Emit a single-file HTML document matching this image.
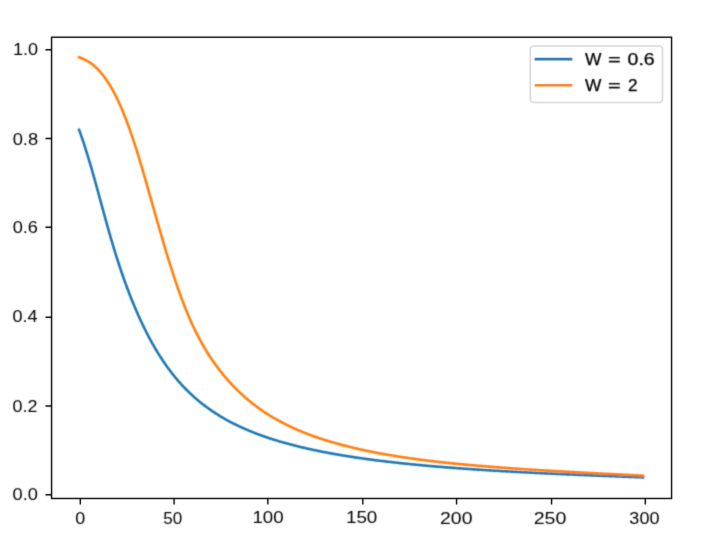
<!DOCTYPE html>
<html><head><meta charset="utf-8"><title>W plot</title>
<style>
html,body{margin:0;padding:0;background:#fff;}
body{width:710px;height:539px;overflow:hidden;}
svg{display:block;}
text{font-family:"Liberation Sans",sans-serif;font-size:17.25px;fill:#000;text-anchor:middle;}
text.lg{text-anchor:start;font-size:17.0px;stroke:#000;stroke-width:0.25px;}
</style></head>
<body>
<svg width="710" height="539" viewBox="0 0 710 539">
<rect width="710" height="539" fill="#fff"/>
<defs><filter id="fc" x="0" y="0" width="710" height="539" filterUnits="userSpaceOnUse"><feConvolveMatrix order="3" kernelMatrix="0.02560 0.10880 0.02560 0.10880 0.46240 0.10880 0.02560 0.10880 0.02560" divisor="1"/></filter><filter id="fs" x="0" y="0" width="710" height="539" filterUnits="userSpaceOnUse"><feConvolveMatrix order="3" kernelMatrix="0.00640 0.06720 0.00640 0.06720 0.70560 0.06720 0.00640 0.06720 0.00640" divisor="1"/></filter><filter id="ft" x="0" y="0" width="710" height="539" filterUnits="userSpaceOnUse"><feConvolveMatrix order="3" kernelMatrix="0.02560 0.10880 0.02560 0.10880 0.46240 0.10880 0.02560 0.10880 0.02560" divisor="1"/></filter></defs>
<g filter="url(#fc)"><polyline points="79.12,129.84 80.06,132.43 81.00,135.09 81.94,137.81 82.89,140.59 83.83,143.43 84.77,146.32 85.71,149.27 86.65,152.27 87.59,155.32 88.53,158.41 89.48,161.56 90.42,164.75 91.36,167.98 92.30,171.25 93.24,174.56 94.18,177.90 95.12,181.27 96.06,184.67 97.01,188.10 97.95,191.53 98.89,194.98 99.83,198.44 100.77,201.90 101.71,205.35 102.65,208.80 103.60,212.24 104.54,215.67 105.48,219.08 106.42,222.47 107.36,225.84 108.30,229.18 109.24,232.50 110.19,235.78 111.13,239.02 112.07,242.23 113.01,245.40 113.95,248.53 114.89,251.61 115.83,254.65 116.77,257.64 117.72,260.59 118.66,263.50 119.60,266.37 120.54,269.19 121.48,271.97 122.42,274.71 123.36,277.41 124.31,280.07 125.25,282.69 126.19,285.27 127.13,287.82 128.07,290.32 129.01,292.79 129.95,295.22 130.90,297.62 131.84,299.98 132.78,302.30 133.72,304.59 134.66,306.85 135.60,309.07 136.54,311.26 137.48,313.41 138.43,315.53 139.37,317.63 140.31,319.68 141.25,321.71 142.19,323.71 143.13,325.68 144.07,327.61 145.02,329.52 145.96,331.40 146.90,333.25 147.84,335.07 148.78,336.86 149.72,338.63 150.66,340.37 151.61,342.08 152.55,343.77 153.49,345.43 154.43,347.06 155.37,348.67 156.31,350.25 157.25,351.81 158.19,353.35 159.14,354.86 160.08,356.35 161.02,357.81 161.96,359.25 162.90,360.67 163.84,362.07 164.78,363.45 165.73,364.80 166.67,366.13 167.61,367.44 168.55,368.73 169.49,370.00 170.43,371.25 171.37,372.48 172.32,373.69 173.26,374.88 174.20,376.05 175.14,377.21 176.08,378.34 177.02,379.46 177.96,380.56 178.91,381.64 179.85,382.71 180.79,383.75 181.73,384.79 182.67,385.80 183.61,386.80 184.55,387.79 185.49,388.76 186.44,389.71 187.38,390.65 188.32,391.58 189.26,392.49 190.20,393.39 191.14,394.28 192.08,395.15 193.03,396.01 193.97,396.86 194.91,397.69 195.85,398.51 196.79,399.32 197.73,400.12 198.67,400.91 199.62,401.68 200.56,402.45 201.50,403.20 202.44,403.94 203.38,404.68 204.32,405.40 205.26,406.11 206.20,406.81 207.15,407.50 208.09,408.19 209.03,408.86 209.97,409.52 210.91,410.18 211.85,410.82 212.79,411.46 213.74,412.09 214.68,412.71 215.62,413.32 216.56,413.92 217.50,414.52 218.44,415.11 219.38,415.69 220.33,416.26 221.27,416.82 222.21,417.38 223.15,417.93 224.09,418.47 225.03,419.01 225.97,419.54 226.91,420.06 227.86,420.58 228.80,421.09 229.74,421.59 230.68,422.09 231.62,422.58 232.56,423.06 233.50,423.54 234.45,424.02 235.39,424.48 236.33,424.94 237.27,425.40 238.21,425.85 239.15,426.30 240.09,426.74 241.04,427.17 241.98,427.60 242.92,428.03 243.86,428.45 244.80,428.86 245.74,429.27 246.68,429.68 247.63,430.08 248.57,430.48 249.51,430.87 250.45,431.26 251.39,431.64 252.33,432.02 253.27,432.40 254.21,432.77 255.16,433.13 256.10,433.50 257.04,433.86 257.98,434.21 258.92,434.57 259.86,434.91 260.80,435.26 261.75,435.60 262.69,435.94 263.63,436.27 264.57,436.60 265.51,436.93 266.45,437.25 267.39,437.57 268.34,437.88 269.28,438.20 270.22,438.51 271.16,438.81 272.10,439.12 273.04,439.42 273.98,439.72 274.92,440.01 275.87,440.30 276.81,440.59 277.75,440.88 278.69,441.16 279.63,441.44 280.57,441.72 281.51,441.99 282.46,442.26 283.40,442.53 284.34,442.80 285.28,443.06 286.22,443.32 287.16,443.58 288.10,443.84 289.05,444.09 289.99,444.35 290.93,444.59 291.87,444.84 292.81,445.09 293.75,445.33 294.69,445.57 295.63,445.81 296.58,446.04 297.52,446.27 298.46,446.51 299.40,446.73 300.34,446.96 301.28,447.19 302.22,447.41 303.17,447.63 304.11,447.85 305.05,448.07 305.99,448.28 306.93,448.49 307.87,448.71 308.81,448.92 309.76,449.12 310.70,449.33 311.64,449.53 312.58,449.74 313.52,449.94 314.46,450.13 315.40,450.33 316.34,450.53 317.29,450.72 318.23,450.91 319.17,451.10 320.11,451.29 321.05,451.48 321.99,451.67 322.93,451.85 323.88,452.03 324.82,452.22 325.76,452.40 326.70,452.57 327.64,452.75 328.58,452.93 329.52,453.10 330.47,453.28 331.41,453.45 332.35,453.62 333.29,453.79 334.23,453.95 335.17,454.12 336.11,454.29 337.06,454.45 338.00,454.61 338.94,454.78 339.88,454.94 340.82,455.09 341.76,455.25 342.70,455.41 343.64,455.56 344.59,455.72 345.53,455.87 346.47,456.02 347.41,456.18 348.35,456.33 349.29,456.47 350.23,456.62 351.18,456.77 352.12,456.91 353.06,457.06 354.00,457.20 354.94,457.34 355.88,457.48 356.82,457.62 357.77,457.76 358.71,457.90 359.65,458.04 360.59,458.17 361.53,458.31 362.47,458.44 363.41,458.58 364.35,458.71 365.30,458.84 366.24,458.97 367.18,459.10 368.12,459.23 369.06,459.36 370.00,459.48 370.94,459.61 371.89,459.73 372.83,459.86 373.77,459.98 374.71,460.10 375.65,460.22 376.59,460.34 377.53,460.46 378.48,460.58 379.42,460.70 380.36,460.82 381.30,460.93 382.24,461.05 383.18,461.16 384.12,461.28 385.06,461.39 386.01,461.50 386.95,461.61 387.89,461.72 388.83,461.83 389.77,461.94 390.71,462.05 391.65,462.16 392.60,462.27 393.54,462.37 394.48,462.48 395.42,462.58 396.36,462.69 397.30,462.79 398.24,462.89 399.19,463.00 400.13,463.10 401.07,463.20 402.01,463.30 402.95,463.40 403.89,463.50 404.83,463.59 405.78,463.69 406.72,463.79 407.66,463.88 408.60,463.98 409.54,464.07 410.48,464.17 411.42,464.26 412.36,464.36 413.31,464.45 414.25,464.54 415.19,464.63 416.13,464.72 417.07,464.81 418.01,464.90 418.95,464.99 419.90,465.08 420.84,465.17 421.78,465.25 422.72,465.34 423.66,465.43 424.60,465.51 425.54,465.60 426.49,465.68 427.43,465.77 428.37,465.85 429.31,465.93 430.25,466.02 431.19,466.10 432.13,466.18 433.07,466.26 434.02,466.34 434.96,466.42 435.90,466.50 436.84,466.58 437.78,466.66 438.72,466.74 439.66,466.81 440.61,466.89 441.55,466.97 442.49,467.04 443.43,467.12 444.37,467.20 445.31,467.27 446.25,467.34 447.20,467.42 448.14,467.49 449.08,467.57 450.02,467.64 450.96,467.71 451.90,467.78 452.84,467.85 453.78,467.92 454.73,468.00 455.67,468.07 456.61,468.14 457.55,468.21 458.49,468.27 459.43,468.34 460.37,468.41 461.32,468.48 462.26,468.55 463.20,468.61 464.14,468.68 465.08,468.75 466.02,468.81 466.96,468.88 467.91,468.94 468.85,469.01 469.79,469.07 470.73,469.14 471.67,469.20 472.61,469.27 473.55,469.33 474.49,469.39 475.44,469.45 476.38,469.52 477.32,469.58 478.26,469.64 479.20,469.70 480.14,469.76 481.08,469.82 482.03,469.88 482.97,469.94 483.91,470.00 484.85,470.06 485.79,470.12 486.73,470.18 487.67,470.24 488.62,470.30 489.56,470.35 490.50,470.41 491.44,470.47 492.38,470.53 493.32,470.58 494.26,470.64 495.21,470.70 496.15,470.75 497.09,470.81 498.03,470.86 498.97,470.92 499.91,470.97 500.85,471.03 501.79,471.08 502.74,471.14 503.68,471.19 504.62,471.24 505.56,471.30 506.50,471.35 507.44,471.40 508.38,471.46 509.33,471.51 510.27,471.56 511.21,471.61 512.15,471.66 513.09,471.71 514.03,471.77 514.97,471.82 515.92,471.87 516.86,471.92 517.80,471.97 518.74,472.02 519.68,472.07 520.62,472.12 521.56,472.17 522.50,472.22 523.45,472.27 524.39,472.31 525.33,472.36 526.27,472.41 527.21,472.46 528.15,472.51 529.09,472.56 530.04,472.60 530.98,472.65 531.92,472.70 532.86,472.75 533.80,472.79 534.74,472.84 535.68,472.89 536.63,472.93 537.57,472.98 538.51,473.02 539.45,473.07 540.39,473.11 541.33,473.16 542.27,473.21 543.21,473.25 544.16,473.30 545.10,473.34 546.04,473.38 546.98,473.43 547.92,473.47 548.86,473.52 549.80,473.56 550.75,473.61 551.69,473.65 552.63,473.69 553.57,473.74 554.51,473.78 555.45,473.82 556.39,473.87 557.34,473.91 558.28,473.95 559.22,473.99 560.16,474.04 561.10,474.08 562.04,474.12 562.98,474.16 563.93,474.20 564.87,474.25 565.81,474.29 566.75,474.33 567.69,474.37 568.63,474.41 569.57,474.45 570.51,474.49 571.46,474.53 572.40,474.57 573.34,474.61 574.28,474.66 575.22,474.70 576.16,474.74 577.10,474.78 578.05,474.82 578.99,474.86 579.93,474.90 580.87,474.93 581.81,474.97 582.75,475.01 583.69,475.05 584.64,475.09 585.58,475.13 586.52,475.17 587.46,475.21 588.40,475.25 589.34,475.29 590.28,475.33 591.22,475.36 592.17,475.40 593.11,475.44 594.05,475.48 594.99,475.52 595.93,475.56 596.87,475.59 597.81,475.63 598.76,475.67 599.70,475.71 600.64,475.75 601.58,475.78 602.52,475.82 603.46,475.86 604.40,475.90 605.35,475.93 606.29,475.97 607.23,476.01 608.17,476.04 609.11,476.08 610.05,476.12 610.99,476.15 611.93,476.19 612.88,476.23 613.82,476.26 614.76,476.30 615.70,476.34 616.64,476.37 617.58,476.41 618.52,476.45 619.47,476.48 620.41,476.52 621.35,476.56 622.29,476.59 623.23,476.63 624.17,476.66 625.11,476.70 626.06,476.74 627.00,476.77 627.94,476.81 628.88,476.84 629.82,476.88 630.76,476.91 631.70,476.95 632.64,476.99 633.59,477.02 634.53,477.06 635.47,477.09 636.41,477.13 637.35,477.16 638.29,477.20 639.23,477.23 640.18,477.27 641.12,477.30 642.06,477.34 643.00,477.37" fill="none" stroke="#1f77b4" stroke-width="2.604" stroke-linecap="square" stroke-linejoin="round"/>
<polyline points="79.12,57.27 80.06,57.59 81.00,57.94 81.94,58.31 82.89,58.71 83.83,59.13 84.77,59.58 85.71,60.06 86.65,60.57 87.59,61.12 88.53,61.69 89.48,62.30 90.42,62.94 91.36,63.61 92.30,64.33 93.24,65.07 94.18,65.86 95.12,66.69 96.06,67.55 97.01,68.46 97.95,69.40 98.89,70.39 99.83,71.42 100.77,72.49 101.71,73.61 102.65,74.77 103.60,75.98 104.54,77.24 105.48,78.54 106.42,79.89 107.36,81.29 108.30,82.74 109.24,84.23 110.19,85.78 111.13,87.37 112.07,89.02 113.01,90.72 113.95,92.46 114.89,94.26 115.83,96.12 116.77,98.02 117.72,99.98 118.66,101.98 119.60,104.04 120.54,106.16 121.48,108.32 122.42,110.54 123.36,112.81 124.31,115.14 125.25,117.51 126.19,119.94 127.13,122.42 128.07,124.95 129.01,127.54 129.95,130.17 130.90,132.85 131.84,135.59 132.78,138.37 133.72,141.20 134.66,144.08 135.60,147.01 136.54,149.98 137.48,153.00 138.43,156.07 139.37,159.17 140.31,162.30 141.25,165.47 142.19,168.67 143.13,171.89 144.07,175.13 145.02,178.39 145.96,181.67 146.90,184.97 147.84,188.27 148.78,191.58 149.72,194.90 150.66,198.22 151.61,201.54 152.55,204.86 153.49,208.18 154.43,211.50 155.37,214.81 156.31,218.12 157.25,221.42 158.19,224.70 159.14,227.98 160.08,231.24 161.02,234.49 161.96,237.72 162.90,240.92 163.84,244.11 164.78,247.27 165.73,250.41 166.67,253.53 167.61,256.61 168.55,259.67 169.49,262.69 170.43,265.69 171.37,268.65 172.32,271.58 173.26,274.47 174.20,277.32 175.14,280.15 176.08,282.93 177.02,285.67 177.96,288.38 178.91,291.05 179.85,293.67 180.79,296.26 181.73,298.81 182.67,301.31 183.61,303.77 184.55,306.19 185.49,308.57 186.44,310.91 187.38,313.20 188.32,315.45 189.26,317.65 190.20,319.82 191.14,321.94 192.08,324.01 193.03,326.04 193.97,328.04 194.91,329.99 195.85,331.90 196.79,333.78 197.73,335.62 198.67,337.43 199.62,339.20 200.56,340.93 201.50,342.64 202.44,344.31 203.38,345.95 204.32,347.56 205.26,349.14 206.20,350.70 207.15,352.22 208.09,353.72 209.03,355.19 209.97,356.64 210.91,358.06 211.85,359.46 212.79,360.84 213.74,362.19 214.68,363.52 215.62,364.83 216.56,366.11 217.50,367.38 218.44,368.63 219.38,369.85 220.33,371.06 221.27,372.25 222.21,373.43 223.15,374.58 224.09,375.72 225.03,376.84 225.97,377.95 226.91,379.04 227.86,380.12 228.80,381.18 229.74,382.22 230.68,383.25 231.62,384.27 232.56,385.27 233.50,386.26 234.45,387.23 235.39,388.19 236.33,389.14 237.27,390.07 238.21,390.99 239.15,391.90 240.09,392.79 241.04,393.68 241.98,394.55 242.92,395.40 243.86,396.25 244.80,397.09 245.74,397.91 246.68,398.72 247.63,399.52 248.57,400.31 249.51,401.09 250.45,401.86 251.39,402.62 252.33,403.36 253.27,404.10 254.21,404.83 255.16,405.54 256.10,406.25 257.04,406.95 257.98,407.64 258.92,408.32 259.86,408.99 260.80,409.65 261.75,410.30 262.69,410.95 263.63,411.58 264.57,412.21 265.51,412.83 266.45,413.44 267.39,414.05 268.34,414.64 269.28,415.23 270.22,415.81 271.16,416.39 272.10,416.95 273.04,417.51 273.98,418.06 274.92,418.61 275.87,419.14 276.81,419.68 277.75,420.20 278.69,420.72 279.63,421.23 280.57,421.74 281.51,422.24 282.46,422.73 283.40,423.22 284.34,423.70 285.28,424.18 286.22,424.65 287.16,425.11 288.10,425.57 289.05,426.02 289.99,426.47 290.93,426.91 291.87,427.35 292.81,427.78 293.75,428.21 294.69,428.63 295.63,429.05 296.58,429.47 297.52,429.87 298.46,430.28 299.40,430.68 300.34,431.07 301.28,431.46 302.22,431.85 303.17,432.23 304.11,432.61 305.05,432.98 305.99,433.35 306.93,433.71 307.87,434.08 308.81,434.43 309.76,434.79 310.70,435.14 311.64,435.48 312.58,435.82 313.52,436.16 314.46,436.50 315.40,436.83 316.34,437.16 317.29,437.48 318.23,437.80 319.17,438.12 320.11,438.44 321.05,438.75 321.99,439.06 322.93,439.36 323.88,439.66 324.82,439.96 325.76,440.26 326.70,440.55 327.64,440.84 328.58,441.13 329.52,441.41 330.47,441.70 331.41,441.98 332.35,442.25 333.29,442.53 334.23,442.80 335.17,443.07 336.11,443.33 337.06,443.60 338.00,443.86 338.94,444.12 339.88,444.37 340.82,444.63 341.76,444.88 342.70,445.13 343.64,445.38 344.59,445.62 345.53,445.86 346.47,446.10 347.41,446.34 348.35,446.58 349.29,446.81 350.23,447.04 351.18,447.27 352.12,447.50 353.06,447.72 354.00,447.95 354.94,448.17 355.88,448.39 356.82,448.60 357.77,448.82 358.71,449.03 359.65,449.24 360.59,449.45 361.53,449.66 362.47,449.87 363.41,450.07 364.35,450.27 365.30,450.47 366.24,450.67 367.18,450.87 368.12,451.06 369.06,451.26 370.00,451.45 370.94,451.64 371.89,451.83 372.83,452.01 373.77,452.20 374.71,452.38 375.65,452.56 376.59,452.74 377.53,452.92 378.48,453.10 379.42,453.27 380.36,453.45 381.30,453.62 382.24,453.79 383.18,453.96 384.12,454.13 385.06,454.30 386.01,454.46 386.95,454.63 387.89,454.79 388.83,454.95 389.77,455.11 390.71,455.27 391.65,455.43 392.60,455.58 393.54,455.74 394.48,455.89 395.42,456.04 396.36,456.19 397.30,456.34 398.24,456.49 399.19,456.64 400.13,456.79 401.07,456.93 402.01,457.07 402.95,457.22 403.89,457.36 404.83,457.50 405.78,457.64 406.72,457.78 407.66,457.91 408.60,458.05 409.54,458.18 410.48,458.32 411.42,458.45 412.36,458.58 413.31,458.71 414.25,458.84 415.19,458.97 416.13,459.10 417.07,459.22 418.01,459.35 418.95,459.47 419.90,459.60 420.84,459.72 421.78,459.84 422.72,459.96 423.66,460.08 424.60,460.20 425.54,460.32 426.49,460.44 427.43,460.55 428.37,460.67 429.31,460.79 430.25,460.90 431.19,461.01 432.13,461.12 433.07,461.24 434.02,461.35 434.96,461.46 435.90,461.56 436.84,461.67 437.78,461.78 438.72,461.89 439.66,461.99 440.61,462.10 441.55,462.20 442.49,462.31 443.43,462.41 444.37,462.51 445.31,462.61 446.25,462.71 447.20,462.81 448.14,462.91 449.08,463.01 450.02,463.11 450.96,463.20 451.90,463.30 452.84,463.40 453.78,463.49 454.73,463.59 455.67,463.68 456.61,463.77 457.55,463.87 458.49,463.96 459.43,464.05 460.37,464.14 461.32,464.23 462.26,464.32 463.20,464.41 464.14,464.50 465.08,464.59 466.02,464.67 466.96,464.76 467.91,464.85 468.85,464.93 469.79,465.02 470.73,465.10 471.67,465.19 472.61,465.27 473.55,465.35 474.49,465.43 475.44,465.52 476.38,465.60 477.32,465.68 478.26,465.76 479.20,465.84 480.14,465.92 481.08,466.00 482.03,466.08 482.97,466.15 483.91,466.23 484.85,466.31 485.79,466.38 486.73,466.46 487.67,466.54 488.62,466.61 489.56,466.69 490.50,466.76 491.44,466.84 492.38,466.91 493.32,466.98 494.26,467.05 495.21,467.13 496.15,467.20 497.09,467.27 498.03,467.34 498.97,467.41 499.91,467.48 500.85,467.55 501.79,467.62 502.74,467.69 503.68,467.76 504.62,467.83 505.56,467.90 506.50,467.97 507.44,468.03 508.38,468.10 509.33,468.17 510.27,468.23 511.21,468.30 512.15,468.36 513.09,468.43 514.03,468.50 514.97,468.56 515.92,468.62 516.86,468.69 517.80,468.75 518.74,468.82 519.68,468.88 520.62,468.94 521.56,469.01 522.50,469.07 523.45,469.13 524.39,469.19 525.33,469.25 526.27,469.31 527.21,469.38 528.15,469.44 529.09,469.50 530.04,469.56 530.98,469.62 531.92,469.68 532.86,469.74 533.80,469.79 534.74,469.85 535.68,469.91 536.63,469.97 537.57,470.03 538.51,470.09 539.45,470.15 540.39,470.20 541.33,470.26 542.27,470.32 543.21,470.37 544.16,470.43 545.10,470.49 546.04,470.54 546.98,470.60 547.92,470.66 548.86,470.71 549.80,470.77 550.75,470.82 551.69,470.88 552.63,470.93 553.57,470.99 554.51,471.04 555.45,471.09 556.39,471.15 557.34,471.20 558.28,471.26 559.22,471.31 560.16,471.36 561.10,471.42 562.04,471.47 562.98,471.52 563.93,471.58 564.87,471.63 565.81,471.68 566.75,471.73 567.69,471.79 568.63,471.84 569.57,471.89 570.51,471.94 571.46,471.99 572.40,472.04 573.34,472.10 574.28,472.15 575.22,472.20 576.16,472.25 577.10,472.30 578.05,472.35 578.99,472.40 579.93,472.45 580.87,472.50 581.81,472.55 582.75,472.60 583.69,472.65 584.64,472.70 585.58,472.75 586.52,472.80 587.46,472.85 588.40,472.90 589.34,472.95 590.28,473.00 591.22,473.05 592.17,473.10 593.11,473.15 594.05,473.20 594.99,473.25 595.93,473.29 596.87,473.34 597.81,473.39 598.76,473.44 599.70,473.49 600.64,473.54 601.58,473.59 602.52,473.63 603.46,473.68 604.40,473.73 605.35,473.78 606.29,473.83 607.23,473.87 608.17,473.92 609.11,473.97 610.05,474.02 610.99,474.06 611.93,474.11 612.88,474.16 613.82,474.21 614.76,474.26 615.70,474.30 616.64,474.35 617.58,474.40 618.52,474.44 619.47,474.49 620.41,474.54 621.35,474.59 622.29,474.63 623.23,474.68 624.17,474.73 625.11,474.77 626.06,474.82 627.00,474.87 627.94,474.92 628.88,474.96 629.82,475.01 630.76,475.06 631.70,475.10 632.64,475.15 633.59,475.20 634.53,475.24 635.47,475.29 636.41,475.34 637.35,475.38 638.29,475.43 639.23,475.48 640.18,475.52 641.12,475.57 642.06,475.62 643.00,475.66" fill="none" stroke="#ff7f0e" stroke-width="2.604" stroke-linecap="square" stroke-linejoin="round"/></g>
<g filter="url(#fs)"><rect x="51.565" y="37.225" width="620.000" height="461.250" fill="none" stroke="#000" stroke-width="1.389"/>
<path d="M45.489 49.725H51.565M45.489 138.475H51.565M45.489 227.225H51.565M45.489 317.225H51.565M45.489 405.975H51.565M45.489 494.725H51.565M80.315 498.475V504.551M174.065 498.475V504.551M267.815 498.475V504.551M362.815 498.475V504.551M456.565 498.475V504.551M551.565 498.475V504.551M645.315 498.475V504.551" stroke="#000" stroke-width="1.389" fill="none"/>
<rect x="530.3" y="46.0" width="132.2" height="56.5" rx="3.47" fill="#fff" fill-opacity="0.8" stroke="#d6d6d6" stroke-width="1.6"/>
<path d="M535.9 59.09H571.0" stroke="#1f77b4" stroke-width="2.604" stroke-linecap="square"/>
<path d="M535.9 85.23H571.0" stroke="#ff7f0e" stroke-width="2.604" stroke-linecap="square"/></g>
<g filter="url(#ft)"><text x="25.48" y="55.23" textLength="25.15" lengthAdjust="spacingAndGlyphs">1.0</text>
<text x="25.36" y="144.83" textLength="25.47" lengthAdjust="spacingAndGlyphs">0.8</text>
<text x="25.27" y="233.39" textLength="25.29" lengthAdjust="spacingAndGlyphs">0.6</text>
<text x="25.11" y="322.02" textLength="25.05" lengthAdjust="spacingAndGlyphs">0.4</text>
<text x="24.96" y="411.85" textLength="24.90" lengthAdjust="spacingAndGlyphs">0.2</text>
<text x="25.30" y="500.44" textLength="25.36" lengthAdjust="spacingAndGlyphs">0.0</text>
<text x="80.23" y="523.83" textLength="9.97" lengthAdjust="spacingAndGlyphs">0</text>
<text x="172.80" y="523.65" textLength="18.97" lengthAdjust="spacingAndGlyphs">50</text>
<text x="268.02" y="523.41" textLength="31.11" lengthAdjust="spacingAndGlyphs">100</text>
<text x="361.64" y="523.34" textLength="31.45" lengthAdjust="spacingAndGlyphs">150</text>
<text x="456.26" y="523.73" textLength="32.40" lengthAdjust="spacingAndGlyphs">200</text>
<text x="550.07" y="523.53" textLength="32.69" lengthAdjust="spacingAndGlyphs">250</text>
<text x="644.41" y="523.79" textLength="30.05" lengthAdjust="spacingAndGlyphs">300</text>
<text class="lg"><tspan x="584.91" y="65.18" textLength="16.44" lengthAdjust="spacingAndGlyphs">W</tspan> <tspan x="608.14" y="65.06" textLength="12.74" lengthAdjust="spacingAndGlyphs">=</tspan> <tspan x="627.57" y="64.67" textLength="27.14" lengthAdjust="spacingAndGlyphs">0.6</tspan></text>
<text class="lg"><tspan x="584.97" y="91.27" textLength="16.40" lengthAdjust="spacingAndGlyphs">W</tspan> <tspan x="608.11" y="91.11" textLength="12.78" lengthAdjust="spacingAndGlyphs">=</tspan> <tspan x="628.05" y="91.23" textLength="9.54" lengthAdjust="spacingAndGlyphs">2</tspan></text></g>

</svg>
</body></html>
